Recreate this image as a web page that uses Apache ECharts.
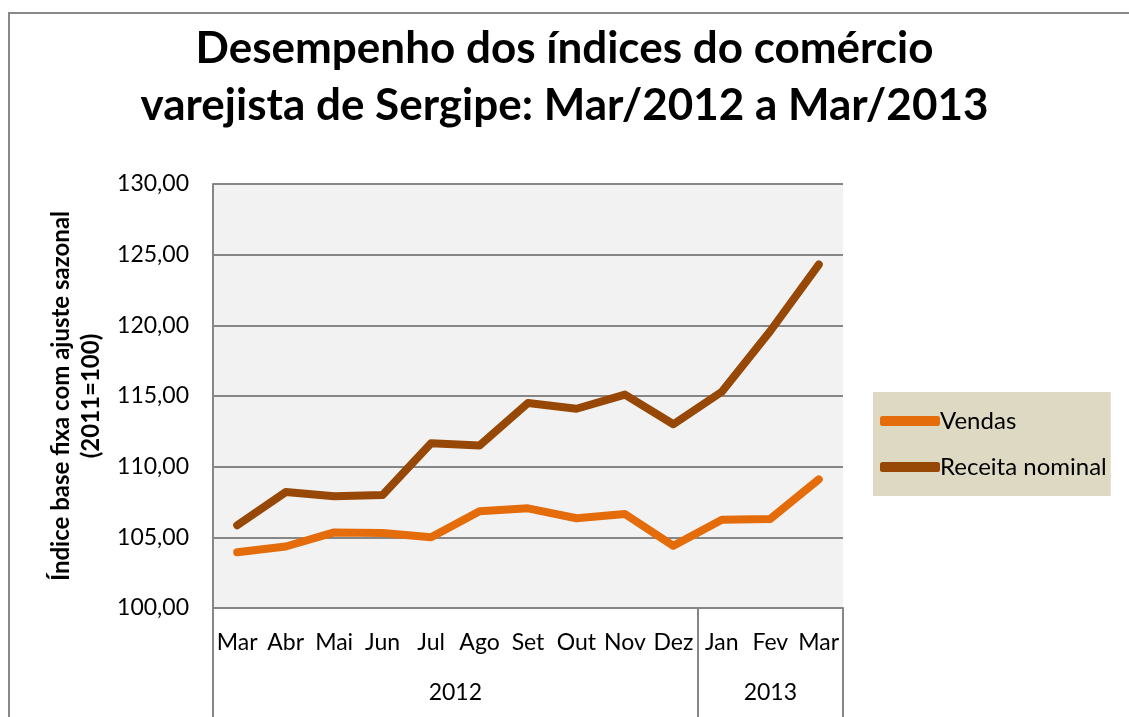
<!DOCTYPE html>
<html>
<head>
<meta charset="utf-8">
<title>Comércio varejista de Sergipe</title>
<script src="https://cdn.jsdelivr.net/npm/echarts@6/dist/echarts.min.js"></script>
<style>
  html, body { margin: 0; padding: 0; background: #fff; }
  #chart { width: 1129px; height: 717px; }
</style>
</head>
<body>
<div id="chart"></div>
<script>
// dados (índice base fixa, 2011=100)
var meses = ['Mar', 'Abr', 'Mai', 'Jun', 'Jul', 'Ago', 'Set', 'Out', 'Nov', 'Dez', 'Jan', 'Fev', 'Mar'];
var anos = ['2012', '2013'];
var mesesPorAno = [10, 3];
var vendas = [103.95, 104.35, 105.35, 105.3, 105.0, 106.85, 107.05, 106.35, 106.65, 104.4, 106.25, 106.3, 109.1];
var receita = [105.85, 108.2, 107.9, 108.0, 111.65, 111.5, 114.5, 114.1, 115.1, 113.0, 115.3, 119.6, 124.3];
var yTicks = [100, 105, 110, 115, 120, 125, 130];

// limites e centros dos grupos de ano
var limites = [0];
var centros = [];
mesesPorAno.forEach(function (n, i) {
  centros.push(limites[i] + n / 2);
  limites.push(limites[i] + n);
});

var chart = echarts.init(document.getElementById('chart'));
var fonte = 'Lato, "Liberation Sans", sans-serif';

chart.setOption({
  backgroundColor: '#fff',
  animation: false,
  title: {
    text: 'Desempenho dos índices do comércio\nvarejista de Sergipe: Mar/2012 a Mar/2013',
    left: 'center',
    top: 20,
    padding: [0, 0, 0, 30],
    textStyle: {
      fontFamily: fonte,
      fontSize: 44,
      fontWeight: 'bold',
      color: '#000',
      lineHeight: 57
    }
  },
  legend: {
    orient: 'vertical',
    left: 873,
    top: 392,
    backgroundColor: '#DDD9C3',
    padding: [17, 4, 17, 7],
    itemGap: 22,
    itemWidth: 60,
    itemHeight: 10,
    icon: 'roundRect',
    textStyle: { fontFamily: fonte, fontSize: 24, color: '#000', padding: [0, 0, 0, -5] },
    data: ['Vendas', 'Receita nominal']
  },
  graphic: [{
    type: 'polyline',
    shape: { points: [[9, 900], [9, 13], [1300, 13]] },
    style: { fill: 'none', stroke: '#888', lineWidth: 2 },
    silent: true
  }],
  grid: {
    left: 213,
    top: 184,
    right: 286,
    bottom: 109,
    show: true,
    backgroundColor: '#F2F2F2',
    borderWidth: 0
  },
  xAxis: [{
    type: 'category',
    data: meses,
    boundaryGap: true,
    axisLine: { lineStyle: { color: '#868686', width: 2 } },
    axisTick: { show: false },
    axisLabel: { fontFamily: fonte, fontSize: 23, color: '#000', margin: 23, interval: 0 }
  }, {
    type: 'value',
    min: 0,
    max: meses.length,
    position: 'bottom',
    axisLine: { show: false },
    splitLine: { show: false },
    axisTick: {
      show: true,
      customValues: limites,
      length: 110,
      lineStyle: { color: '#868686', width: 2 }
    },
    axisLabel: {
      customValues: centros,
      fontFamily: fonte,
      fontSize: 23,
      color: '#000',
      margin: 73,
      formatter: function (v) {
        return anos[centros.indexOf(v)];
      }
    }
  }],
  yAxis: {
    type: 'value',
    min: yTicks[0],
    max: yTicks[yTicks.length - 1],
    interval: 5,
    name: 'Índice base fixa com ajuste sazonal\n(2011=100)',
    nameLocation: 'middle',
    nameGap: 106,
    nameTextStyle: { fontFamily: fonte, fontSize: 24, fontWeight: 'bold', color: '#000', lineHeight: 30 },
    axisLine: { show: true, lineStyle: { color: '#868686', width: 2 } },
    axisTick: { show: false },
    splitLine: { lineStyle: { color: '#868686', width: 2 } },
    axisLabel: {
      fontFamily: fonte,
      fontSize: 23,
      color: '#000',
      margin: 24,
      formatter: function (v) { return v.toFixed(2).replace('.', ','); }
    }
  },
  series: [{
    name: 'Vendas',
    type: 'line',
    data: vendas,
    symbol: 'none',
    color: '#E46C0A',
    lineStyle: { width: 8, cap: 'round', join: 'round' }
  }, {
    name: 'Receita nominal',
    type: 'line',
    data: receita,
    symbol: 'none',
    color: '#974806',
    lineStyle: { width: 8, cap: 'round', join: 'round' }
  }]
});
</script>
</body>
</html>
